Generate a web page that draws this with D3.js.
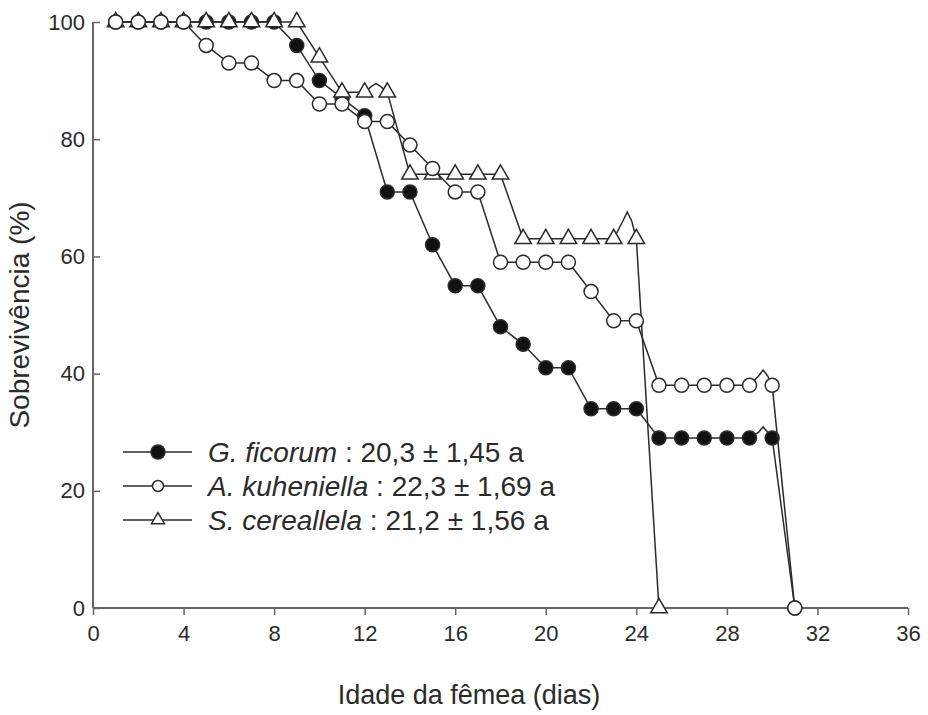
<!DOCTYPE html>
<html>
<head>
<meta charset="utf-8">
<script src="https://cdn.jsdelivr.net/npm/d3@7"></script>
<style>
  body { margin: 0; background: #fff; }
  text { font-family: "Liberation Sans", Arial, sans-serif; fill: #2b2b2b; }
</style>
</head>
<body>
<div id="chart"></div>
<script>
// survival (%) by female age (days)
var days = [1,2,3,4,5,6,7,8,9,10,11,12,13,14,15,16,17,18,19,20,21,22,23,24,25,26,27,28,29,30,31];
var ficorum    = [100,100,100,100,100,100,100,100,96,90,87,84,71,71,62,55,55,48,45,41,41,34,34,34,29,29,29,29,29,29,0];
var kuheniella = [100,100,100,100,96,93,93,90,90,86,86,83,83,79,75,71,71,59,59,59,59,54,49,49,38,38,38,38,38,38,0];
var cereallela = [100,100,100,100,100,100,100,100,100,94,88,88,88,74,74,74,74,74,63,63,63,63,63,63,0];

// small bumps in the drawn lines (no marker)
var ficorumBumpDay = [29.4, 29.6, 29.8], ficorumBumpVal = [30, 30.9, 30];
var kuheniellaBumpDay = [29.4, 29.6, 29.8], kuheniellaBumpVal = [39.6, 40.6, 39.6];
var cereallelaBumpDay = [12.3, 12.5, 12.7, 23.4, 23.6, 23.8], cereallelaBumpVal = [89, 89.5, 89, 66, 67.6, 66];

var xTicks = [0,4,8,12,16,20,24,28,32,36];
var yTicks = [0,20,40,60,80,100];

var legendNames = ["G. ficorum", "A. kuheniella", "S. cereallela"];
var legendStats = [" : 20,3 ± 1,45 a", " : 22,3 ± 1,69 a", " : 21,2 ± 1,56 a"];

var width = 928, height = 715;
var ink = "#2b2b2b";

var svg = d3.select("#chart").append("svg")
    .attr("width", width).attr("height", height);

var x = d3.scaleLinear().domain([0, 36]).range([93, 908]);
var y = d3.scaleLinear().domain([0, 100]).range([608, 22]);

function points(vals, bumpDays, bumpVals) {
    var pts = vals.map(function (v, i) { return [days[i], v]; });
    bumpDays.forEach(function (d, i) { pts.push([d, bumpVals[i]]); });
    pts.sort(function (a, b) { return a[0] - b[0]; });
    return pts;
}

var line = d3.line()
    .x(function (d) { return x(d[0]); })
    .y(function (d) { return y(d[1]); });

// axes
var xAxis = svg.append("g")
    .attr("transform", "translate(0," + y(0) + ")")
    .call(d3.axisBottom(x).tickValues(xTicks).tickSize(7).tickPadding(10).tickFormat(d3.format("d")));
var yAxis = svg.append("g")
    .attr("transform", "translate(" + x(0) + ",0)")
    .call(d3.axisLeft(y).tickValues(yTicks).tickSize(-7).tickPadding(8).tickFormat(d3.format("d")));

[xAxis, yAxis].forEach(function (a) {
    a.select(".domain").attr("stroke", "#666").attr("stroke-width", 2);
    a.selectAll(".tick line").attr("stroke", "#666").attr("stroke-width", 1.5);
    a.selectAll(".tick text").attr("font-size", 22).attr("fill", ink)
        .attr("font-family", "Liberation Sans, Arial, sans-serif");
});
yAxis.select(".domain").attr("d", "M0," + y(0) + "V" + y(100));
xAxis.select(".domain").attr("d", "M" + x(0) + ",0H" + x(36));
yAxis.selectAll(".tick text").attr("x", -8);

svg.append("text")
    .attr("x", 469)
    .attr("y", 704)
    .attr("text-anchor", "middle")
    .attr("font-size", 27)
    .text("Idade da fêmea (dias)");

svg.append("text")
    .attr("transform", "translate(29," + y(50) + ") rotate(-90)")
    .attr("text-anchor", "middle")
    .attr("font-size", 28)
    .text("Sobrevivência (%)");

// series
var series = [
    { vals: ficorum, pts: points(ficorum, ficorumBumpDay, ficorumBumpVal), kind: "filled" },
    { vals: cereallela, pts: points(cereallela, cereallelaBumpDay, cereallelaBumpVal), kind: "triangle" },
    { vals: kuheniella, pts: points(kuheniella, kuheniellaBumpDay, kuheniellaBumpVal), kind: "open" }
];

function drawMarker(g, kind, cx, cy, r) {
    if (kind === "triangle") {
        g.append("path")
            .attr("d", d3.symbol().type(d3.symbolTriangle).size(r * r * 2.4)())
            .attr("transform", "translate(" + cx + "," + cy + ")")
            .attr("fill", "#fff").attr("stroke", ink).attr("stroke-width", 1.5);
    } else {
        g.append("circle")
            .attr("cx", cx).attr("cy", cy).attr("r", r)
            .attr("fill", kind === "filled" ? "#111" : "#fff")
            .attr("stroke", ink).attr("stroke-width", 1.5);
    }
}

series.forEach(function (s) {
    var g = svg.append("g");
    g.append("path")
        .attr("d", line(s.pts))
        .attr("fill", "none").attr("stroke", ink).attr("stroke-width", 1.5);
    s.vals.forEach(function (v, i) {
        drawMarker(g, s.kind, x(days[i]), y(v), 7);
    });
});

// legend
var kinds = ["filled", "open", "triangle"];
var legend = svg.append("g");
legendNames.forEach(function (name, i) {
    var ly = 452 + i * 34;
    legend.append("line")
        .attr("x1", 123).attr("x2", 192).attr("y1", ly).attr("y2", ly)
        .attr("stroke", ink).attr("stroke-width", 1.5);
    drawMarker(legend, kinds[i], 158, ly, i === 0 ? 7 : 5.5);
    var t = legend.append("text")
        .attr("x", 208).attr("y", ly + 10)
        .attr("font-size", 28);
    t.append("tspan").attr("font-style", "italic").text(name);
    t.append("tspan").text(legendStats[i]);
});
</script>
</body>
</html>
